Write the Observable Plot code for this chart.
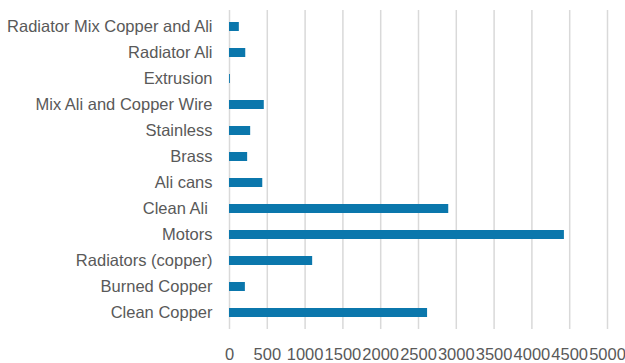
<!DOCTYPE html>
<html>
<head>
<meta charset="utf-8">
<script src="https://cdn.jsdelivr.net/npm/d3@7"></script>
<script src="https://cdn.jsdelivr.net/npm/@observablehq/plot@0.6"></script>
<style>
  html, body { margin: 0; padding: 0; background: #fff; }
  svg text { white-space: pre; }
</style>
</head>
<body>
<div id="chart"></div>
<script>
const categories = [
  "Radiator Mix Copper and Ali",
  "Radiator Ali",
  "Extrusion",
  "Mix Ali and Copper Wire",
  "Stainless",
  "Brass",
  "Ali cans",
  "Clean Ali ",
  "Motors",
  "Radiators (copper)",
  "Burned Copper",
  "Clean Copper"
];
const values = [130, 215, 12, 460, 280, 240, 440, 2900, 4430, 1100, 210, 2620];
const xTicks = [0, 500, 1000, 1500, 2000, 2500, 3000, 3500, 4000, 4500, 5000];

const data = categories.map((c, i) => ({category: c, value: values[i]}));

const chart = Plot.plot({
  width: 625,
  height: 363,
  marginLeft: 229,
  marginRight: 18,
  marginTop: 10,
  marginBottom: 34,
  style: {fontFamily: "'Liberation Sans', Arial, sans-serif", fontSize: "16.5px", color: "#595959", background: "#fff"},
  x: {domain: [0, 5000], ticks: xTicks, label: null},
  y: {domain: categories, paddingInner: 0.65, paddingOuter: 0.325, label: null},
  marks: [
    Plot.ruleX(xTicks, {stroke: "#d9d9d9", strokeWidth: 1.5}),
    Plot.barX(data, {x: "value", y: "category", fill: "#0b77ac"}),
    Plot.axisX({ticks: xTicks, tickSize: 0, tickPadding: 19, fontSize: 16.5, fill: "#595959", tickFormat: d => String(d), label: null}),
    Plot.axisY({tickSize: 0, tickPadding: 17, fontSize: 16.5, fill: "#595959", label: null})
  ]
});
document.getElementById("chart").appendChild(chart);
</script>
</body>
</html>
